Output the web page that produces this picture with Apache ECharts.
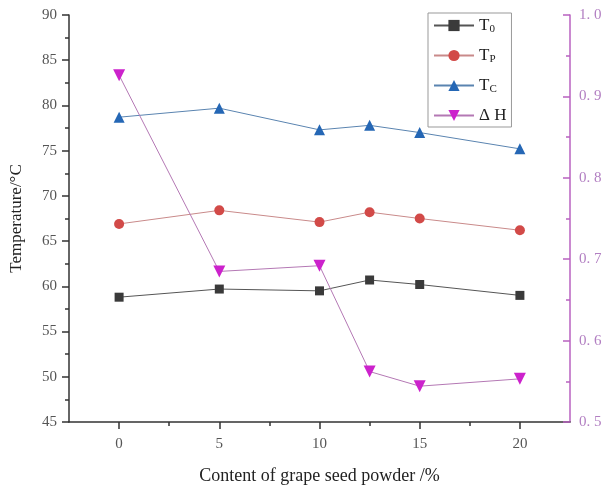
<!DOCTYPE html>
<html>
<head>
<meta charset="utf-8">
<script src="https://cdn.jsdelivr.net/npm/echarts@6/dist/echarts.min.js"></script>
<style>
  html, body { margin: 0; padding: 0; background: #fff; }
  #chart { width: 608px; height: 490px; }
</style>
</head>
<body>
<div id="chart"></div>
<script>
// grape seed powder content (%)
var content = [0, 5, 10, 12.5, 15, 20]
var t0 = [58.8, 59.7, 59.5, 60.7, 60.2, 59.0]
var tp = [66.9, 68.4, 67.1, 68.2, 67.5, 66.2]
var tc = [78.7, 79.7, 77.3, 77.8, 77.0, 75.2]
var dH = [0.926, 0.685, 0.692, 0.562, 0.544, 0.553]
var xMajor = [0, 5, 10, 15, 20]
var xMinor = [2.5, 7.5, 12.5, 17.5]

var serif = 'Liberation Serif'

function pairs(ys) {
  return content.map(function (x, i) { return [x, ys[i]] })
}

var chart = echarts.init(document.getElementById('chart'))
chart.setOption({
  animation: false,
  grid: { left: 65, right: 38, top: 15, bottom: 68 },
  legend: {
    orient: 'vertical',
    left: 428,
    top: 13,
    padding: [4, 5, 3, 5],
    itemWidth: 40,
    itemHeight: 14,
    itemGap: 12,
    borderColor: '#999',
    borderWidth: 1,
    textStyle: {
      fontFamily: serif,
      fontSize: 17,
      color: '#222',
      rich: {
        sub: { fontFamily: serif, fontSize: 11, color: '#222', verticalAlign: 'bottom', padding: [8, 0, 0, 0] }
      }
    },
    formatter: function (name) {
      if (name === 'T0') return 'T{sub|0}'
      if (name === 'TP') return 'T{sub|P}'
      if (name === 'TC') return 'T{sub|C}'
      return name
    },
    data: ['T0', 'TP', 'TC', 'Δ H']
  },
  xAxis: [{
    type: 'value',
    min: -2.5,
    max: 22.5,
    name: 'Content of grape seed powder /%',
    nameLocation: 'middle',
    nameGap: 45,
    nameTextStyle: { fontFamily: serif, fontSize: 18, color: '#222' },
    axisLine: { show: true, onZero: false, lineStyle: { color: '#333', width: 1.5 } },
    axisTick: { show: true, length: 7, customValues: xMajor, lineStyle: { color: '#333', width: 1.5 } },
    axisLabel: { customValues: xMajor, fontFamily: serif, fontSize: 15, color: '#555', margin: 15 },
    splitLine: { show: false }
  }, {
    type: 'value',
    position: 'bottom',
    min: -2.5,
    max: 22.5,
    axisLine: { show: false, onZero: false },
    axisTick: { show: true, length: 4, customValues: xMinor, lineStyle: { color: '#333', width: 1.5 } },
    axisLabel: { show: false },
    splitLine: { show: false }
  }],
  yAxis: [{
    type: 'value',
    position: 'left',
    min: 45,
    max: 90,
    interval: 5,
    name: 'Temperature/°C',
    nameLocation: 'middle',
    nameGap: 44,
    nameTextStyle: { fontFamily: serif, fontSize: 17, color: '#222' },
    axisLine: { show: true, onZero: false, lineStyle: { color: '#333', width: 1.5 } },
    axisTick: { show: true, length: 7, lineStyle: { color: '#333', width: 1.5 } },
    minorTick: { show: true, splitNumber: 2, length: 4, lineStyle: { color: '#333', width: 1.5 } },
    axisLabel: { fontFamily: serif, fontSize: 15, color: '#555', margin: 12 },
    splitLine: { show: false }
  }, {
    type: 'value',
    position: 'right',
    min: 0.5,
    max: 1.0,
    interval: 0.1,
    axisLine: { show: true, onZero: false, lineStyle: { color: '#b862c0', width: 1.5 } },
    axisTick: { show: true, inside: true, length: 7, lineStyle: { color: '#b862c0', width: 1.5 } },
    minorTick: { show: true, splitNumber: 2, length: 4, lineStyle: { color: '#b862c0', width: 1.5 } },
    axisLabel: {
      fontFamily: serif, fontSize: 15, color: '#b27fc2', margin: 9,
      formatter: function (v) { return v.toFixed(1).replace('.', '. ') }
    },
    splitLine: { show: false }
  }],
  series: [{
    name: 'T0',
    type: 'line',
    data: pairs(t0),
    symbol: 'rect',
    symbolSize: 9,
    itemStyle: { color: '#3a3a3a' },
    lineStyle: { color: '#555', width: 1 }
  }, {
    name: 'TP',
    type: 'line',
    data: pairs(tp),
    symbol: 'circle',
    symbolSize: 10,
    itemStyle: { color: '#d24a48' },
    lineStyle: { color: '#c98a8a', width: 1 }
  }, {
    name: 'TC',
    type: 'line',
    data: pairs(tc),
    symbol: 'triangle',
    symbolSize: 11,
    itemStyle: { color: '#2567b5' },
    lineStyle: { color: '#5a84b0', width: 1 }
  }, {
    name: 'Δ H',
    type: 'line',
    yAxisIndex: 1,
    data: pairs(dH),
    symbol: 'triangle',
    symbolRotate: 180,
    symbolSize: 12,
    itemStyle: { color: '#cc22cc' },
    lineStyle: { color: '#b478b4', width: 1 }
  }]
})
</script>
</body>
</html>
